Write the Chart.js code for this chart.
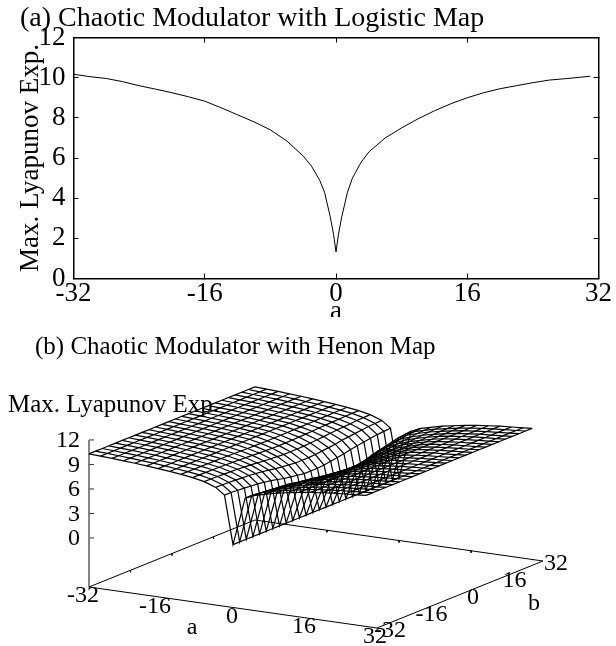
<!DOCTYPE html>
<html>
<head>
<meta charset="utf-8">
<script src="https://cdn.jsdelivr.net/npm/chart.js@4"></script>
<style>
  html, body { margin: 0; padding: 0; background: #fff; }
  canvas { position: absolute; left: 0; }
  #LogisticChart { top: 0; }
  #HenonChart { top: 317px; }
</style>
</head>
<body>
<canvas id="LogisticChart" width="616" height="317"></canvas>
<canvas id="HenonChart" width="616" height="329"></canvas>
<script>
const SERIF = "'Liberation Serif', 'Times New Roman', serif";

// panel (a): exponent against a
const logisticA = [-32, -30, -28, -26, -24, -22, -20, -18, -16, -14, -12, -10, -8, -6, -4, -3, -2, -1.4, -0.7, -0.3, 0,
                   0.3, 0.7, 1.4, 2, 3, 4, 6, 8, 10, 12, 14, 16, 18, 20, 22, 24, 26, 28, 31];
const logisticExp = [10.17, 10.05, 9.96, 9.8, 9.6, 9.43, 9.25, 9.05, 8.83, 8.5, 8.15, 7.8, 7.4, 6.85, 6.1, 5.6, 4.9, 4.3, 3.07, 2.2, 1.33,
                     2.2, 3.07, 4.3, 5.0, 5.75, 6.3, 7.0, 7.5, 7.95, 8.35, 8.7, 9.0, 9.25, 9.45, 9.6, 9.75, 9.88, 9.95, 10.07];
const logisticXTicks = [-32, -16, 0, 16, 32];
const logisticYTicks = [0, 2, 4, 6, 8, 10, 12];

// panel (b): surface grid, one row of zRows per value of b
const surfaceA = [-32, -29.44, -26.88, -24.32, -21.76, -19.2, -16.64, -14.08, -11.52, -8.96, -6.4, -3.84, -1.9, 0,
                  2.7, 4.8, 7, 9.6, 12.16, 14.72, 17.28, 19.84, 22.4, 24.96, 27.52, 29.6];
const surfaceB = [-32, -29.44, -26.88, -24.32, -21.76, -19.2, -16.64, -14.08, -11.52, -8.96, -6.4, -3.84, -1.28,
                  1.28, 3.84, 6.4, 8.96, 11.52, 14.08, 16.64, 19.2, 21.76, 24.32, 26.88, 29.44, 32];
const zRows = [
  [10.3, 10.22, 10.14, 10.05, 9.95, 9.83, 9.7, 9.55, 9.4, 9.2, 8.9, 8.4, 7.6, 1.7, 7.6, 8.1, 8.4, 8.75, 9, 9.25, 9.45, 9.6, 9.75, 9.85, 9.95, 10.05],
  [10.3, 10.22, 10.14, 10.05, 9.95, 9.83, 9.7, 9.55, 9.4, 9.2, 8.9, 8.4, 7.6, 1.7, 7.6, 8.1, 8.4, 8.75, 9, 9.25, 9.45, 9.6, 9.75, 9.85, 9.95, 10.05],
  [10.3, 10.22, 10.14, 10.05, 9.95, 9.83, 9.7, 9.55, 9.39, 9.18, 8.87, 8.35, 7.54, 1.7, 7.5, 8.03, 8.35, 8.72, 8.98, 9.24, 9.45, 9.6, 9.75, 9.85, 9.95, 10.05],
  [10.3, 10.22, 10.14, 10.05, 9.95, 9.83, 9.7, 9.55, 9.39, 9.17, 8.84, 8.31, 7.47, 1.7, 7.4, 7.95, 8.3, 8.69, 8.97, 9.24, 9.45, 9.6, 9.75, 9.85, 9.95, 10.05],
  [10.3, 10.22, 10.14, 10.05, 9.95, 9.83, 9.7, 9.55, 9.38, 9.15, 8.81, 8.26, 7.41, 1.7, 7.3, 7.88, 8.25, 8.65, 8.95, 9.23, 9.45, 9.6, 9.75, 9.85, 9.95, 10.05],
  [10.3, 10.22, 10.14, 10.05, 9.95, 9.83, 9.7, 9.55, 9.37, 9.13, 8.78, 8.21, 7.34, 1.7, 7.2, 7.8, 8.2, 8.62, 8.93, 9.22, 9.45, 9.6, 9.75, 9.85, 9.95, 10.05],
  [10.3, 10.22, 10.14, 10.05, 9.95, 9.83, 9.7, 9.55, 9.36, 9.1, 8.72, 8.12, 7.21, 1.7, 7.0, 7.65, 8.1, 8.56, 8.9, 9.21, 9.45, 9.6, 9.75, 9.85, 9.95, 10.05],
  [10.3, 10.22, 10.14, 10.05, 9.95, 9.83, 9.7, 9.55, 9.34, 9.06, 8.66, 8.02, 7.08, 1.7, 6.8, 7.5, 8.0, 8.49, 8.86, 9.19, 9.45, 9.6, 9.75, 9.85, 9.95, 10.05],
  [10.3, 10.22, 10.14, 10.05, 9.95, 9.83, 9.7, 9.55, 9.32, 9.01, 8.57, 7.88, 6.89, 1.7, 6.5, 7.28, 7.85, 8.39, 8.81, 9.17, 9.45, 9.6, 9.75, 9.85, 9.95, 10.05],
  [10.3, 10.22, 10.14, 10.05, 9.95, 9.83, 9.7, 9.55, 9.3, 8.96, 8.48, 7.74, 6.69, 1.7, 6.2, 7.05, 7.7, 8.3, 8.76, 9.15, 9.45, 9.6, 9.75, 9.85, 9.95, 10.05],
  [10.3, 10.22, 10.14, 10.05, 9.95, 9.83, 9.7, 9.55, 9.28, 8.92, 8.42, 7.64, 6.56, 1.7, 6.0, 6.9, 7.6, 8.23, 8.72, 9.13, 9.45, 9.6, 9.75, 9.85, 9.95, 10.05],
  [10.3, 10.22, 10.14, 10.05, 9.95, 9.83, 9.7, 9.55, 9.27, 8.89, 8.36, 7.55, 6.43, 1.7, 5.8, 6.75, 7.5, 8.17, 8.69, 9.12, 9.45, 9.6, 9.75, 9.85, 9.95, 10.05],
  [10.3, 10.22, 10.14, 10.05, 9.95, 9.83, 9.7, 9.55, 9.25, 8.85, 8.3, 7.45, 6.3, 1.7, 5.6, 6.6, 7.4, 8.1, 8.65, 9.1, 9.45, 9.6, 9.75, 9.85, 9.95, 10.05],
  [10.3, 10.22, 10.14, 10.05, 9.95, 9.83, 9.7, 9.55, 9.25, 8.85, 8.3, 7.45, 6.3, 1.7, 5.6, 6.6, 7.4, 8.1, 8.65, 9.1, 9.45, 9.6, 9.75, 9.85, 9.95, 10.05],
  [10.3, 10.22, 10.14, 10.05, 9.95, 9.83, 9.7, 9.55, 9.25, 8.85, 8.3, 7.45, 6.3, 1.7, 5.6, 6.6, 7.4, 8.1, 8.65, 9.1, 9.45, 9.6, 9.75, 9.85, 9.95, 10.05],
  [10.3, 10.22, 10.14, 10.05, 9.95, 9.83, 9.7, 9.55, 9.26, 8.87, 8.33, 7.5, 6.37, 1.7, 5.7, 6.68, 7.45, 8.13, 8.67, 9.11, 9.45, 9.6, 9.75, 9.85, 9.95, 10.05],
  [10.3, 10.22, 10.14, 10.05, 9.95, 9.83, 9.7, 9.55, 9.27, 8.9, 8.39, 7.59, 6.5, 1.7, 5.9, 6.83, 7.55, 8.2, 8.7, 9.12, 9.45, 9.6, 9.75, 9.85, 9.95, 10.05],
  [10.3, 10.22, 10.14, 10.05, 9.95, 9.83, 9.7, 9.55, 9.29, 8.94, 8.45, 7.69, 6.63, 1.7, 6.1, 6.98, 7.65, 8.26, 8.74, 9.14, 9.45, 9.6, 9.75, 9.85, 9.95, 10.05],
  [10.3, 10.22, 10.14, 10.05, 9.95, 9.83, 9.7, 9.55, 9.3, 8.97, 8.51, 7.78, 6.76, 1.7, 6.3, 7.13, 7.75, 8.33, 8.77, 9.15, 9.45, 9.6, 9.75, 9.85, 9.95, 10.05],
  [10.3, 10.22, 10.14, 10.05, 9.95, 9.83, 9.7, 9.55, 9.33, 9.03, 8.6, 7.93, 6.95, 1.7, 6.6, 7.35, 7.9, 8.43, 8.83, 9.18, 9.45, 9.6, 9.75, 9.85, 9.95, 10.05],
  [10.3, 10.22, 10.14, 10.05, 9.95, 9.83, 9.7, 9.55, 9.34, 9.06, 8.66, 8.02, 7.08, 1.7, 6.8, 7.5, 8.0, 8.49, 8.86, 9.19, 9.45, 9.6, 9.75, 9.85, 9.95, 10.05],
  [10.3, 10.22, 10.14, 10.05, 9.95, 9.83, 9.7, 9.55, 9.36, 9.1, 8.72, 8.12, 7.21, 1.7, 7.0, 7.65, 8.1, 8.56, 8.9, 9.21, 9.45, 9.6, 9.75, 9.85, 9.95, 10.05],
  [10.3, 10.22, 10.14, 10.05, 9.95, 9.83, 9.7, 9.55, 9.37, 9.13, 8.78, 8.21, 7.34, 1.7, 7.2, 7.8, 8.2, 8.62, 8.93, 9.22, 9.45, 9.6, 9.75, 9.85, 9.95, 10.05],
  [10.3, 10.22, 10.14, 10.05, 9.95, 9.83, 9.7, 9.55, 9.39, 9.17, 8.84, 8.31, 7.47, 1.7, 7.4, 7.95, 8.3, 8.69, 8.97, 9.24, 9.45, 9.6, 9.75, 9.85, 9.95, 10.05],
  [10.3, 10.22, 10.14, 10.05, 9.95, 9.83, 9.7, 9.55, 9.39, 9.18, 8.87, 8.35, 7.54, 1.7, 7.5, 8.03, 8.35, 8.72, 8.98, 9.24, 9.45, 9.6, 9.75, 9.85, 9.95, 10.05],
  [10.3, 10.22, 10.14, 10.05, 9.95, 9.83, 9.7, 9.55, 9.4, 9.2, 8.9, 8.4, 7.6, 1.7, 7.6, 8.1, 8.4, 8.75, 9, 9.25, 9.45, 9.6, 9.75, 9.85, 9.95, 10.05]
];
const surfaceATicks = [-32, -16, 0, 16, 32];
const surfaceBTicks = [-32, -16, 0, 16, 32];
const surfaceZTicks = [0, 3, 6, 9, 12];
const Z_FLOOR = -6;

// view used for the wire plot, in page pixels
function Project(a, b, z)
{
    const u = (a + 32) / 64;
    const v = (b + 32) / 64;
    return {
        x: 89 + 288 * u + 166 * v,
        y: 587 + 41 * u - 67 * v - (z - Z_FLOOR) * 8.17
    };
}

function TextPlugin(items)
{
    return {
        id: 'panelText',
        afterDraw(chart) {
            const ctx = chart.ctx;
            ctx.save();
            ctx.fillStyle = '#000';
            items.forEach(item => {
                ctx.save();
                ctx.translate(item.x, item.y);
                if (item.rotate) ctx.rotate(item.rotate);
                ctx.font = item.size + "px " + SERIF;
                ctx.textAlign = item.align || 'left';
                ctx.textBaseline = 'middle';
                ctx.fillText(item.text, 0, 0);
                ctx.restore();
            });
            ctx.restore();
        }
    };
}

function RenderLogisticChart()
{
    const points = logisticA.map((a, i) => ({ x: a, y: logisticExp[i] }));
    const edgeGrid = { drawOnChartArea: false, tickLength: -5, color: '#000', lineWidth: 1 };
    const edgeBorder = { color: '#000', width: 1.5 };

    new Chart(document.getElementById("LogisticChart"), {
        type: 'scatter',
        data: {
            datasets: [{
                data: points,
                showLine: true,
                borderColor: '#000',
                borderWidth: 1,
                pointRadius: 0,
                tension: 0
            }]
        },
        options: {
            responsive: false,
            animation: false,
            layout: { padding: { top: 37.5, right: 16, left: 0, bottom: 0 } },
            plugins: { legend: { display: false }, tooltip: { enabled: false } },
            scales: {
                x: {
                    min: -32, max: 32,
                    afterBuildTicks: s => { s.ticks = logisticXTicks.map(v => ({ value: v })); },
                    afterFit: s => { s.height = 38.5; },
                    grid: edgeGrid, border: edgeBorder,
                    ticks: { color: '#000', font: { family: SERIF, size: 27 }, padding: 4, maxRotation: 0, autoSkip: false }
                },
                y: {
                    min: 0, max: 12,
                    afterBuildTicks: s => { s.ticks = logisticYTicks.map(v => ({ value: v })); },
                    afterFit: s => { s.width = 73.5; },
                    grid: edgeGrid, border: edgeBorder,
                    ticks: { color: '#000', font: { family: SERIF, size: 27 }, padding: 13, autoSkip: false }
                },
                xTop: {
                    type: 'linear', axis: 'x', position: 'top', min: -32, max: 32,
                    afterBuildTicks: s => { s.ticks = logisticXTicks.map(v => ({ value: v })); },
                    afterFit: s => { s.height = 0; },
                    grid: edgeGrid, border: edgeBorder, ticks: { display: false }
                },
                yRight: {
                    type: 'linear', axis: 'y', position: 'right', min: 0, max: 12,
                    afterBuildTicks: s => { s.ticks = logisticYTicks.map(v => ({ value: v })); },
                    afterFit: s => { s.width = 0; },
                    grid: edgeGrid, border: edgeBorder, ticks: { display: false }
                }
            }
        },
        plugins: [TextPlugin([
            { text: "(a) Chaotic Modulator with Logistic Map", x: 20, y: 19, size: 28 },
            { text: "Max. Lyapunov Exp.", x: 31, y: 158, size: 27, align: 'center', rotate: -Math.PI / 2 },
            { text: "a", x: 336, y: 312, size: 27, align: 'center' }
        ])]
    });
}

function WireLine(points, color, width)
{
    return {
        data: points,
        showLine: true,
        borderColor: color || '#000',
        borderWidth: width || 1.2,
        pointRadius: 0,
        tension: 0
    };
}

function GetSurfaceDatasets()
{
    var Datasets = [];

    // lines along a, one for each b
    for (let j = 0; j < surfaceB.length; j++)
    {
        Datasets.push(WireLine(surfaceA.map((a, i) => Project(a, surfaceB[j], zRows[j][i]))));
    }
    // lines along b, one for each a
    for (let i = 0; i < surfaceA.length; i++)
    {
        Datasets.push(WireLine(surfaceB.map((b, j) => Project(surfaceA[i], b, zRows[j][i]))));
    }
    return Datasets;
}

function GetFloorDatasets()
{
    const corners = [[-32, -32], [32, -32], [32, 32], [-32, 32], [-32, -32]];
    var Datasets = [WireLine(corners.map(c => Project(c[0], c[1], Z_FLOOR)), '#000', 1)];

    // z axis with its ticks
    Datasets.push(WireLine([Project(-32, -32, Z_FLOOR), Project(-32, -32, 12)], '#666', 1.6));
    surfaceZTicks.forEach(z => {
        const p = Project(-32, -32, z);
        Datasets.push(WireLine([p, { x: p.x + 5, y: p.y }], '#333', 1));
    });

    // small ticks on the floor edges
    surfaceATicks.slice(1, -1).forEach(a => {
        const p = Project(a, 32, Z_FLOOR);
        Datasets.push(WireLine([p, { x: p.x, y: p.y + 2 }], '#000', 1));
    });
    surfaceBTicks.slice(1, -1).forEach(b => {
        const p = Project(-32, b, Z_FLOOR);
        Datasets.push(WireLine([p, { x: p.x, y: p.y + 2 }], '#000', 1));
    });
    return Datasets;
}

function GetSurfaceLabels()
{
    const aLabelShift = [-6, -6, -1, -1, -2];
    var Labels = [
        { text: "(b) Chaotic Modulator with Henon Map", x: 35, y: 30.5, size: 25 },
        { text: "Max. Lyapunov Exp.", x: 8, y: 88, size: 25 },
        { text: "a", x: 192, y: 311, size: 24, align: 'center' },
        { text: "b", x: 534, y: 287, size: 24, align: 'center' }
    ];
    surfaceZTicks.forEach(z => {
        const p = Project(-32, -32, z);
        Labels.push({ text: String(z), x: 80, y: p.y - 317 + 1, size: 24, align: 'right' });
    });
    surfaceATicks.forEach((a, i) => {
        const p = Project(a, -32, Z_FLOOR);
        Labels.push({ text: String(a), x: p.x + aLabelShift[i], y: p.y - 317 + 9, size: 24, align: 'center' });
    });
    surfaceBTicks.forEach(b => {
        const p = Project(32, b, Z_FLOOR);
        Labels.push({ text: String(b), x: p.x + 13, y: p.y - 317 + 3, size: 24, align: 'center' });
    });
    return Labels;
}

function RenderHenonChart()
{
    new Chart(document.getElementById("HenonChart"), {
        type: 'scatter',
        data: { datasets: GetSurfaceDatasets().concat(GetFloorDatasets()) },
        options: {
            responsive: false,
            animation: false,
            layout: { padding: 0 },
            plugins: { legend: { display: false }, tooltip: { enabled: false } },
            scales: {
                x: { display: false, min: 0, max: 616 },
                y: { display: false, min: 317, max: 646, reverse: true }
            }
        },
        plugins: [TextPlugin(GetSurfaceLabels())]
    });
}

RenderLogisticChart();
RenderHenonChart();
</script>
</body>
</html>
